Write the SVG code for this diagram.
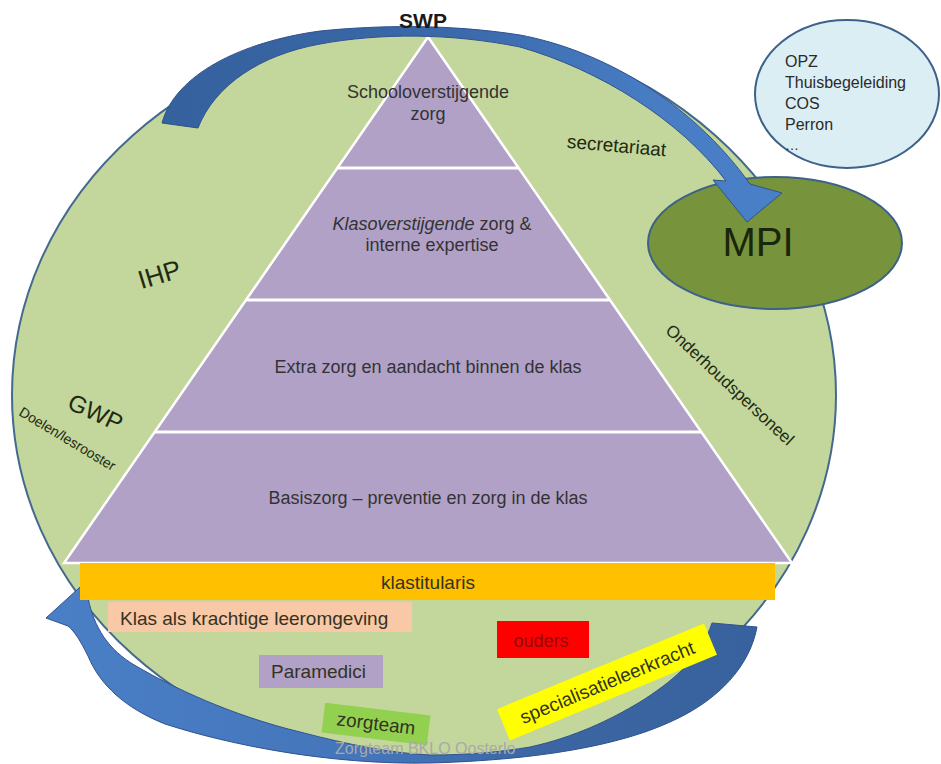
<svg xmlns="http://www.w3.org/2000/svg" width="941" height="764" viewBox="0 0 941 764">
<defs>
<linearGradient id="gTop" gradientUnits="userSpaceOnUse" x1="160" y1="0" x2="780" y2="0">
<stop offset="0" stop-color="#35619d"/>
<stop offset="0.45" stop-color="#3a68a8"/>
<stop offset="0.8" stop-color="#487dc4"/>
<stop offset="1" stop-color="#4a80c8"/>
</linearGradient>
<linearGradient id="gBot" gradientUnits="userSpaceOnUse" x1="50" y1="0" x2="760" y2="0">
<stop offset="0" stop-color="#4a7fc6"/>
<stop offset="0.45" stop-color="#4475ba"/>
<stop offset="0.7" stop-color="#3b66a3"/>
<stop offset="1" stop-color="#38629d"/>
</linearGradient>
</defs>
<style>
text{font-family:"Liberation Sans",Arial,sans-serif;}
.pyr{fill:#333333;font-size:18px;text-anchor:middle;}
.grn{fill:#1f2a12;}
.box{font-size:19px;fill:#333322;}
.sep{stroke:#ffffff;stroke-width:3;}
.arrow{stroke:#2f528f;stroke-width:1;}
</style>
<rect width="941" height="764" fill="#ffffff"/>

<g id="circle">
<ellipse cx="424" cy="395" rx="412" ry="367" fill="#c3d69b" stroke="#44698f" stroke-width="2"/>
</g>

<g id="pyramid">
<polygon points="428,37 792,563 64,563" fill="#b1a1c7" stroke="#ffffff" stroke-width="2.5"/>
<line class="sep" x1="337" y1="168" x2="519" y2="168"/>
<line class="sep" x1="246" y1="300" x2="610" y2="300"/>
<line class="sep" x1="155" y1="432" x2="701" y2="432"/>
<text class="pyr" x="428" y="98">Schooloverstijgende</text>
<text class="pyr" x="428" y="120">zorg</text>
<text class="pyr" x="432" y="230"><tspan font-style="italic">Klasoverstijgende</tspan> zorg &amp;</text>
<text class="pyr" x="432" y="251">interne expertise</text>
<text class="pyr" x="428" y="373">Extra zorg en aandacht binnen de klas</text>
<text class="pyr" x="428" y="504">Basiszorg – preventie en zorg in de klas</text>
</g>

<g id="labels">
<text class="grn" x="162" y="283" font-size="26" text-anchor="middle" transform="rotate(-17 162 283)">IHP</text>
<text class="grn" x="92" y="420" font-size="24" text-anchor="middle" transform="rotate(25 92 420)">GWP</text>
<text class="grn" x="65" y="443" font-size="14" text-anchor="middle" transform="rotate(31 65 443)">Doelen/lesrooster</text>
<text class="grn" x="616" y="152" font-size="19" text-anchor="middle" transform="rotate(5 616 152)">secretariaat</text>
<text class="grn" x="726" y="389" font-size="17" text-anchor="middle" transform="rotate(43 726 389)">Onderhoudspersoneel</text>
</g>

<g id="mpi">
<ellipse cx="775" cy="243" rx="127" ry="66" fill="#77933c" stroke="#3d6189" stroke-width="2"/>
<text x="758" y="256" font-size="40" fill="#1a260c" text-anchor="middle">MPI</text>
</g>

<g id="partners">
<ellipse cx="847" cy="94" rx="92" ry="74" fill="#dbeef4" stroke="#3d6189" stroke-width="2"/>
<text x="785" y="67" font-size="16" fill="#2a2a2a">OPZ</text>
<text x="785" y="88" font-size="16" fill="#2a2a2a">Thuisbegeleiding</text>
<text x="785" y="109" font-size="16" fill="#2a2a2a">COS</text>
<text x="785" y="130" font-size="16" fill="#2a2a2a">Perron</text>
<text x="785" y="150" font-size="14" fill="#2a2a2a">…</text>
</g>

<g id="connectors">
<path class="arrow" fill="url(#gTop)" d="M162,123 C175,75 240,42 320,31 C380,25 450,24 520,35 C600,50 690,100 750,184 L782,193 L747,222 L713,180 L726,181 C680,120 600,70 520,47 C450,33 380,33 320,44 C260,55 215,85 198,128 Z"/>
<path class="arrow" fill="url(#gBot)" d="M46,618 L90,578 L88,598 C94,627 108,650 136,666 C172,687 230,715 300,732 C350,745 390,753 430,755 C470,755 500,752 530,747 C575,737 610,720 640,702 C670,683 700,660 712,623 L757,627 C750,665 720,700 670,722 C620,745 540,760 430,763 C330,765 230,745 165,724 C125,708 100,685 88,656 C80,640 75,632 68,626 Z"/>
</g>

<g id="swp">
<text x="423" y="28" font-size="21" font-weight="bold" fill="#1a1a1a" text-anchor="middle">SWP</text>
</g>

<g id="klastitularis">
<rect x="80" y="563" width="695" height="37" fill="#ffc000"/>
<text class="box" x="428" y="589" text-anchor="middle">klastitularis</text>
</g>

<g id="klas">
<rect x="108" y="602" width="304" height="30" fill="#f9c8a6"/>
<text class="box" x="120" y="625" font-size="20">Klas als krachtige leeromgeving</text>
</g>

<g id="paramedici">
<rect x="259" y="655" width="124" height="33" fill="#b1a1c7"/>
<text class="box" x="271" y="678" font-size="16">Paramedici</text>
</g>

<g id="ouders">
<rect x="497" y="621" width="92" height="37" fill="#ff0000"/>
<text x="541" y="647" font-size="18" fill="#8a0c0c" text-anchor="middle">ouders</text>
</g>

<g id="specialisatieleerkracht" transform="translate(607 682) rotate(-22.5)">
<rect x="-112" y="-17" width="224" height="34" fill="#ffff00"/>
<text class="box" x="0" y="7" text-anchor="middle" fill="#222211">specialisatieleerkracht</text>
</g>

<g id="zorgteam" transform="translate(376 724) rotate(7)">
<rect x="-53" y="-15" width="106" height="30" fill="#92d050"/>
<text class="box" x="0" y="6" text-anchor="middle" fill="#1a2a10">zorgteam</text>
</g>

<g id="footer">
<text x="335" y="754" font-size="16" fill="#a9a9a9">Zorgteam BKLO Oosterlo</text>
</g>
</svg>
